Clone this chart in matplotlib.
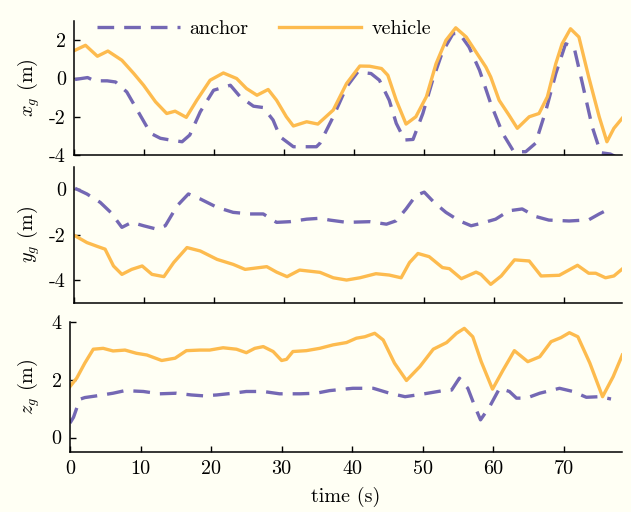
import matplotlib
matplotlib.use("Agg")
import matplotlib.pyplot as plt

plt.rcParams['font.family'] = ['cmr10', 'DejaVu Serif']
plt.rcParams['mathtext.fontset'] = 'cm'
plt.rcParams['axes.unicode_minus'] = False
plt.rcParams['axes.formatter.use_mathtext'] = False

# ---------------- data ----------------
# x_g panel
t_xa = [0.1, 1.9, 2.9, 4.7, 5.9, 7.5, 9.4, 10.9, 12.3, 13.7, 15.4, 16.5, 18.0, 19.9, 22.3, 23.7,
        25.6, 27.0, 28.4, 29.4, 31.3, 34.6, 35.1, 37.0, 38.9, 40.5, 42.4, 43.6, 45.0, 46.0, 47.2,
        48.4, 49.8, 51.2, 52.6, 54.1, 55.0, 56.4, 57.9, 59.5, 61.2, 62.8, 64.5, 65.9, 67.4, 68.8,
        70.2, 71.4, 72.6, 74.0, 75.2, 76.6, 77.4, 78.3]
x_anchor = [-0.07, 0.03, -0.14, -0.14, -0.2, -0.72, -1.92, -2.87, -3.13, -3.22, -3.31, -2.96, -1.75,
            -0.63, -0.37, -0.97, -1.46, -1.53, -2.18, -3.05, -3.57, -3.57, -3.39, -2.01, -0.46, 0.32,
            0.24, -0.11, -1.15, -2.35, -3.22, -3.19, -1.84, -0.11, 1.36, 2.31, 2.34, 1.62, 0.41,
            -1.32, -2.87, -3.83, -3.83, -3.39, -1.66, 0.24, 1.79, 1.62, -0.28, -2.53, -3.88, -3.95,
            -4.1, -4.2]
t_xv = [0.1, 1.6, 3.3, 4.8, 6.8, 8.5, 9.9, 11.6, 13.2, 14.4, 16.0, 17.5, 19.4, 21.3, 23.2, 24.6,
        26.1, 27.7, 28.9, 30.3, 31.3, 33.2, 34.8, 37.0, 38.9, 40.8, 42.2, 43.9, 44.8, 46.0, 47.4,
        48.8, 50.3, 51.7, 53.1, 54.5, 56.0, 57.4, 58.8, 59.5, 60.7, 62.1, 63.3, 65.0, 66.4, 67.6,
        68.8, 69.7, 70.9, 72.1, 73.5, 75.0, 76.1, 77.1, 78.3]
x_vehicle = [1.45, 1.71, 1.14, 1.41, 0.93, 0.24, -0.37, -1.23, -1.84, -1.72, -2.04, -1.15, -0.11,
             0.27, -0.02, -0.54, -0.89, -0.59, -1.15, -2.01, -2.49, -2.27, -2.39, -1.66, -0.28,
             0.63, 0.62, 0.50, 0.15, -1.15, -2.39, -2.01, -0.97, 0.76, 1.97, 2.62, 2.14, 1.36,
             0.58, 0.06, -1.15, -1.92, -2.61, -2.01, -1.84, -0.97, 0.76, 1.79, 2.57, 2.14, 0.06,
             -2.01, -3.31, -2.61, -2.08]

# y_g panel
t_ya = [0.1, 1.8, 3.7, 5.2, 6.8, 8.2, 9.9, 11.8, 13.0, 14.7, 16.3, 18.0, 20.4, 22.7, 25.1, 27.0,
        28.9, 30.8, 33.2, 35.1, 36.5, 38.9, 42.2, 44.6, 46.0, 47.4, 48.8, 50.0, 51.4, 53.1, 55.0,
        56.7, 58.3, 60.2, 62.1, 64.0, 65.9, 67.8, 70.7, 73.5, 75.0, 75.9, 76.6]
y_anchor = [0.05, -0.2, -0.57, -1.01, -1.67, -1.45, -1.6, -1.75, -1.6, -0.72, -0.2, -0.42, -0.79,
            -1.01, -1.08, -1.08, -1.45, -1.42, -1.31, -1.27, -1.35, -1.45, -1.42, -1.53, -1.38,
            -0.86, -0.27, -0.12, -0.57, -1.01, -1.38, -1.6, -1.48, -1.31, -0.94, -0.86, -1.19,
            -1.35, -1.39, -1.34, -1.08, -0.94, -1.08]
t_yv = [0.1, 1.8, 3.3, 4.4, 5.6, 6.8, 8.2, 9.7, 11.1, 12.8, 14.2, 16.1, 18.0, 20.4, 22.7, 24.4,
        27.5, 28.9, 30.4, 32.2, 35.1, 37.0, 38.9, 40.8, 43.1, 45.0, 46.7, 47.9, 49.1, 50.7, 52.6,
        53.6, 55.3, 57.4, 58.1, 59.5, 61.0, 62.9, 65.0, 66.7, 69.3, 71.9, 73.5, 74.5, 75.9, 77.1,
        78.3]
y_vehicle = [-2.04, -2.34, -2.51, -2.63, -3.37, -3.74, -3.52, -3.37, -3.74, -3.84, -3.22, -2.56,
             -2.71, -3.08, -3.30, -3.52, -3.40, -3.64, -3.84, -3.55, -3.65, -3.89, -3.99, -3.89,
             -3.71, -3.77, -3.89, -3.22, -2.82, -2.96, -3.44, -3.49, -3.93, -3.64, -3.74, -4.18,
             -3.81, -3.10, -3.15, -3.81, -3.78, -3.34, -3.69, -3.69, -3.89, -3.81, -3.50]

# z_g panel
t_za = [0.0, 0.5, 1.0, 1.5, 2.1, 3.8, 6.1, 7.8, 10.4, 12.7, 15.1, 17.2, 18.9, 20.8, 23.1, 25.0,
        27.4, 29.7, 32.6, 34.9, 36.8, 40.1, 43.0, 45.3, 47.5, 50.0, 52.9, 54.1, 55.2, 56.4, 57.4,
        58.2, 59.5, 60.9, 62.3, 63.3, 64.7, 66.6, 69.4, 71.3, 73.2, 75.1, 76.7]
z_anchor = [0.5, 0.7, 1.05, 1.33, 1.38, 1.44, 1.53, 1.62, 1.59, 1.51, 1.53, 1.47, 1.44, 1.47,
            1.53, 1.59, 1.59, 1.51, 1.51, 1.53, 1.62, 1.70, 1.70, 1.53, 1.41, 1.50, 1.62, 1.64,
            2.05, 1.70, 1.07, 0.61, 1.07, 1.70, 1.59, 1.36, 1.36, 1.53, 1.70, 1.59, 1.39, 1.41,
            1.33]
t_zv = [0.0, 0.95, 2.1, 3.3, 4.7, 6.1, 7.8, 9.4, 10.9, 13.0, 14.9, 16.5, 18.4, 19.8, 21.7, 23.6,
        25.0, 26.2, 27.4, 28.8, 30.0, 30.7, 31.6, 33.5, 35.4, 37.3, 39.2, 40.6, 41.8, 43.2, 44.4,
        46.0, 47.7, 49.6, 51.5, 53.4, 54.8, 55.9, 57.1, 58.3, 59.9, 61.4, 63.0, 64.9, 66.6, 68.2,
        69.6, 70.8, 72.0, 73.7, 75.5, 77.0, 78.3]
z_vehicle = [1.76, 2.05, 2.57, 3.05, 3.08, 2.99, 3.02, 2.91, 2.85, 2.66, 2.74, 3.00, 3.02, 3.02,
             3.10, 3.05, 2.93, 3.08, 3.14, 2.97, 2.66, 2.70, 2.97, 3.00, 3.08, 3.20, 3.28, 3.43,
             3.48, 3.60, 3.37, 2.57, 1.97, 2.45, 3.05, 3.28, 3.60, 3.77, 3.48, 2.62, 1.67, 2.33,
             3.00, 2.62, 2.79, 3.31, 3.45, 3.62, 3.48, 2.57, 1.41, 2.10, 2.85]

ylabels = [r'$x_g$ (m)', r'$y_g$ (m)', r'$z_g$ (m)']
yticks = [[-4, -2, 0, 2], [-4, -2, 0], [0, 2, 4]]
ylims = [(-4, 3), (-5, 1), (-0.5, 4)]
xticks = [0, 10, 20, 30, 40, 50, 60, 70]
xlim = (0, 78.3)
legend_labels = ['anchor', 'vehicle']
xlabel = 'time (s)'

# ---------------- style ----------------
W, H = 631, 512
BG = '#FFFFF4'
C_ANCHOR = '#7468B4'
C_VEH = '#FDBB4E'
FS = 14.5

fig = plt.figure(figsize=(W / 100, H / 100), dpi=100, facecolor=BG)

def box(l, t, r, b):
    return [l / W, 1 - b / H, (r - l) / W, (b - t) / H]

axes = [fig.add_axes(box(74.3, 20.5, 622.3, 155)),
        fig.add_axes(box(74.3, 166.7, 622.3, 303)),
        fig.add_axes(box(70, 321.7, 622.3, 452))]

series = [((t_xa, x_anchor), (t_xv, x_vehicle)),
          ((t_ya, y_anchor), (t_yv, y_vehicle)),
          ((t_za, z_anchor), (t_zv, z_vehicle))]

for i, ax in enumerate(axes):
    ax.set_facecolor(BG)
    (ta, a), (tv, v) = series[i]
    la, = ax.plot(ta, a, color=C_ANCHOR, lw=2.4, dashes=(5, 3), label=legend_labels[0],
                  solid_joinstyle='round', dash_joinstyle='round')
    lv, = ax.plot(tv, v, color=C_VEH, lw=2.4, label=legend_labels[1],
                  solid_joinstyle='round')
    ax.set_xlim(*xlim)
    ax.set_ylim(*ylims[i])
    ax.set_xticks(xticks)
    ax.set_yticks(yticks[i])
    for s in ['top', 'right']:
        ax.spines[s].set_visible(False)
    for s in ['left', 'bottom']:
        ax.spines[s].set_linewidth(1.1)
    ax.tick_params(direction='in', length=4, width=1.0, labelsize=FS, pad=6)
    if i < 2:
        ax.tick_params(labelbottom=False)
    yc = [(20.5 + 155) / 2, (166.7 + 303) / 2, (321.7 + 452) / 2][i]
    fig.text(29 / W, 1 - yc / H, ylabels[i], rotation=90, ha='center', va='center', fontsize=FS)
    if i == 0:
        ax.legend(handles=[la, lv], loc='center', bbox_to_anchor=(264 / W, 1 - 28.5 / H),
                  bbox_transform=fig.transFigure, ncol=2, frameon=False, fontsize=FS,
                  handlelength=4.1, handletextpad=0.5, columnspacing=1.5, borderaxespad=0)

fig.text(346 / W, 1 - 497 / H, xlabel, ha='center', va='center', fontsize=FS)

fig.savefig('out.png', dpi=100, facecolor=BG)
